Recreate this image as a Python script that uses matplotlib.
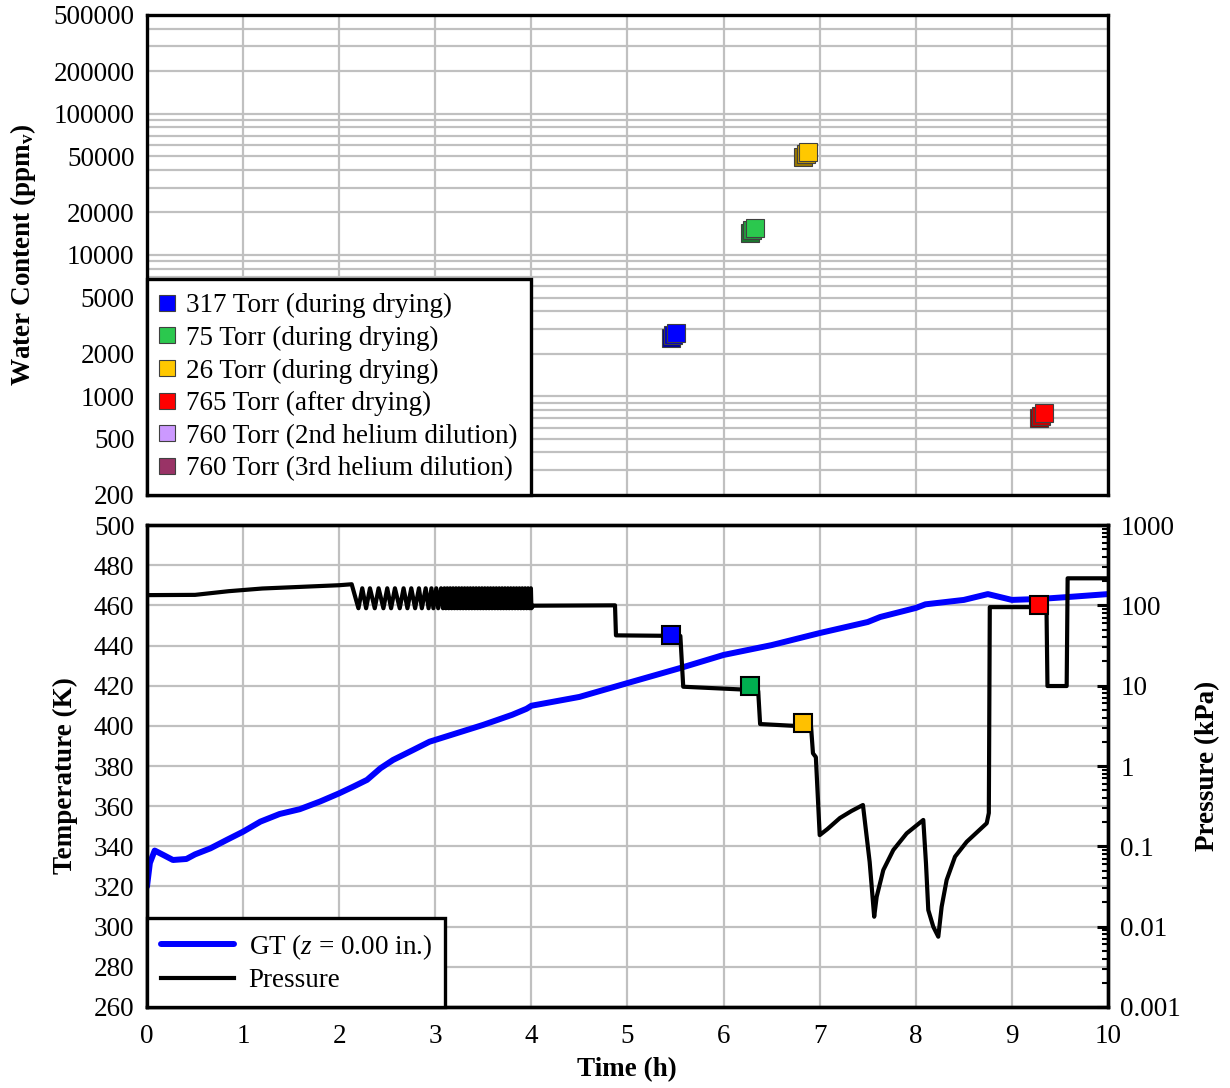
import matplotlib.pyplot as plt
import matplotlib.transforms as mtransforms
from matplotlib.colors import to_rgb
from matplotlib.lines import Line2D
from matplotlib.ticker import FixedLocator, LogLocator, NullFormatter, NullLocator
import numpy as np

plt.rcParams['font.family'] = ['Liberation Serif', 'DejaVu Serif']
plt.rcParams['mathtext.fontset'] = 'custom'
plt.rcParams['mathtext.rm'] = 'Liberation Serif'
plt.rcParams['mathtext.it'] = 'Liberation Serif:italic'
plt.rcParams['mathtext.bf'] = 'Liberation Serif:bold'

FS = 19.5
GRID = '#c0c0c0'

# water samples (time of sample, moisture in ppmv, chamber pressure in Torr)
sample_labels = ['317 Torr (during drying)', '75 Torr (during drying)',
                 '26 Torr (during drying)', '765 Torr (after drying)',
                 '760 Torr (2nd helium dilution)', '760 Torr (3rd helium dilution)']
sample_colors = ['#0000ff', '#2bc84e', '#ffc800', '#ff0000', '#cc99ff', '#993366']
sample_time = [5.45, 6.27, 6.83, 9.28]
sample_ppmv = [2600, 14400, 49700, 700]
sample_torr = [317, 75, 26, 765]
marker_colors_low = ['#0000ff', '#00b050', '#ffc000', '#ff0000']

# gas temperature at z = 0.00 in.
temp_t = [0.0, 0.03, 0.08, 0.17, 0.27, 0.41, 0.5, 0.66, 0.83, 1.0, 1.18, 1.38,
          1.59, 1.8, 2.0, 2.15, 2.29, 2.43, 2.56, 2.77, 2.94, 3.2, 3.5, 3.8,
          3.95, 4.0, 4.5, 5.0, 5.55, 6.0, 6.5, 7.0, 7.5, 7.63, 8.0, 8.1, 8.5,
          8.75, 9.0, 9.3, 9.6, 10.0]
temp_k = [320, 331.7, 337.9, 335.7, 333.2, 333.7, 336, 339, 343.2, 347.3, 352.3,
          356.1, 358.5, 362.3, 366.4, 369.8, 373.1, 378.9, 383, 388, 392.1, 396,
          400.5, 405.5, 408.5, 410, 414.4, 421.3, 428.8, 435.3, 440.2, 446.2,
          451.7, 454.2, 458.7, 460.5, 462.7, 465.6, 462.7, 463.2, 464.2, 465.6]

# pressure (kPa): fill, cycling, pump-down, backfill
pre_t = [0.0, 0.5, 0.85, 1.2, 2.0, 2.13]
pre_p = [134, 135, 150, 162, 178, 183]

cyc_low_t = [2.20, 2.28, 2.37, 2.46, 2.54, 2.63, 2.71, 2.79, 2.86, 2.93, 2.98,
             3.03, 3.08, 3.11, 3.14, 3.17, 3.20, 3.23, 3.26, 3.29, 3.32, 3.35,
             3.38, 3.41, 3.44, 3.47, 3.50, 3.53, 3.56, 3.59, 3.62, 3.65, 3.68,
             3.71, 3.74, 3.77, 3.80, 3.83, 3.86, 3.89, 3.92, 3.95, 3.98]
cyc_high_t = [2.24, 2.32, 2.41, 2.50, 2.58, 2.67, 2.75, 2.83, 2.90, 2.96, 3.01,
              3.06, 3.095, 3.125, 3.155, 3.185, 3.215, 3.245, 3.275, 3.305,
              3.335, 3.365, 3.395, 3.425, 3.455, 3.485, 3.515, 3.545, 3.575,
              3.605, 3.635, 3.665, 3.695, 3.725, 3.755, 3.785, 3.815, 3.845,
              3.875, 3.905, 3.935, 3.965, 3.995]
cyc_low_p = 92
cyc_high_p = 163

post_t = [4.00, 4.02, 4.87, 4.88, 5.55, 5.58, 6.17, 6.33, 6.36, 6.38, 6.91, 6.93,
          6.96, 7.00, 7.08, 7.21, 7.33, 7.45, 7.52, 7.567, 7.593, 7.662, 7.766,
          7.905, 8.078, 8.106, 8.13, 8.182, 8.234, 8.269, 8.321, 8.408, 8.53,
          8.738, 8.76, 8.77, 9.19, 9.36, 9.37, 9.57, 9.58, 10.0]
post_p = [92, 99, 100, 42.3, 41.6, 9.7, 9.0, 8.8, 8.6, 3.33, 3.08, 1.44,
          1.29, 0.138, 0.164, 0.225, 0.275, 0.327, 0.0638, 0.0133, 0.0236, 0.0507,
          0.090, 0.145, 0.213, 0.0615, 0.0161, 0.00998, 0.0075, 0.0177, 0.0381,
          0.0743, 0.114, 0.194, 0.26, 95, 95, 94, 9.9, 9.9, 217, 217]

# stitch the cycling section between the two flat parts
cyc_t = []
cyc_p = []
for lo, hi in zip(cyc_low_t, cyc_high_t):
    cyc_t += [lo, hi]
    cyc_p += [cyc_low_p, cyc_high_p]
press_t = pre_t + cyc_t + post_t
press_p = pre_p + cyc_p + post_p

fig = plt.figure(figsize=(12.3, 10.88), dpi=100)

# ---------- water content ----------
ax1 = fig.add_axes([0.11951, 0.54504, 0.78130, 0.44118])
ax1.set_xlim(0, 10)
ax1.set_yscale('log')
ax1.set_ylim(200, 500000)
ax1.xaxis.set_major_locator(FixedLocator(range(0, 11)))
ax1.xaxis.set_minor_locator(NullLocator())
ax1.set_xticklabels([])
yt = [200, 500, 1000, 2000, 5000, 10000, 20000, 50000, 100000, 200000, 500000]
ax1.yaxis.set_major_locator(FixedLocator(yt))
ax1.set_yticklabels([str(v) for v in yt])
ax1.yaxis.set_minor_locator(LogLocator(base=10, subs=range(2, 10)))
ax1.yaxis.set_minor_formatter(NullFormatter())
ax1.tick_params(which='both', length=0, labelsize=FS, pad=9)
ax1.grid(True, which='both', color=GRID, lw=1.6)
ax1.set_axisbelow(True)
for s in ax1.spines.values():
    s.set_linewidth(2.4)

# stacked squares, back ones a shade darker
for t, w, c in zip(sample_time, sample_ppmv, sample_colors):
    rgb = np.array(to_rgb(c))
    for k, (d, f) in enumerate([(0, 0.6), (2.5, 0.78), (5, 1.0)]):
        tr = mtransforms.offset_copy(ax1.transData, fig=fig, x=d, y=d, units='dots')
        ax1.plot([t], [w], 's', ms=13, mfc=rgb * f, mec='#404040', mew=0.8,
                 transform=tr, zorder=3 + k)

handles = [Line2D([], [], ls='none', marker='s', ms=11.5, mfc=c, mec='#404040',
                  mew=0.8) for c in sample_colors]
leg1 = ax1.legend(handles, sample_labels, loc='lower left', bbox_to_anchor=(0, 0),
                  borderaxespad=0, fontsize=FS, frameon=True, fancybox=False,
                  borderpad=0.5, handlelength=0.5, handletextpad=0.45,
                  labelspacing=0.28)
leg1.get_frame().set_edgecolor('black')
leg1.get_frame().set_linewidth(2.4)
leg1.get_frame().set_alpha(1)

ax1.set_ylabel(r'Water Content (ppm$_\mathbf{v}$)', fontsize=FS, fontweight='bold')
ax1.yaxis.set_label_coords(-0.113, 0.5)

# ---------- temperature / pressure ----------
ax2 = fig.add_axes([0.11951, 0.07445, 0.78130, 0.44301])
ax2.set_xlim(0, 10)
ax2.set_ylim(260, 500)
ax2.set_xticks(range(0, 11))
ax2.set_yticks(range(260, 501, 20))
ax2.tick_params(length=0, labelsize=FS, pad=9)
ax2.tick_params(axis='x', pad=12)
ax2.grid(True, color=GRID, lw=1.6)
ax2.set_axisbelow(True)
ln_t, = ax2.plot(temp_t, temp_k, color='#0000ff', lw=4.3, solid_capstyle='round',
                 solid_joinstyle='round', label=r'GT ($z$ = 0.00 in.)')

ax3 = ax2.twinx()
ax3.set_yscale('log')
ax3.set_ylim(0.001, 1000)
ax3.yaxis.set_major_locator(FixedLocator([0.001, 0.01, 0.1, 1, 10, 100, 1000]))
ax3.set_yticklabels(['0.001', '0.01', '0.1', '1', '10', '100', '1000'])
ax3.yaxis.set_minor_locator(LogLocator(base=10, subs=range(2, 10)))
ax3.yaxis.set_minor_formatter(NullFormatter())
ax3.tick_params(axis='y', which='major', direction='in', length=8, width=2.2,
                labelsize=FS, pad=9)
ax3.tick_params(axis='y', which='minor', direction='in', length=4.5, width=1.5)
ln_p, = ax3.plot(press_t, press_p, color='black', lw=3.0,
                 solid_joinstyle='round', label='Pressure')
for t, p, c in zip(sample_time, sample_torr, marker_colors_low):
    ax3.plot([t], [p * 0.133322], 's', ms=13.5, mfc=c, mec='black', mew=1.5, zorder=5)

for ax in (ax2, ax3):
    for s in ax.spines.values():
        s.set_linewidth(2.4)

leg2 = ax3.legend([ln_t, ln_p], [ln_t.get_label(), ln_p.get_label()],
                  loc='lower left', bbox_to_anchor=(0, 0), borderaxespad=0,
                  fontsize=FS, frameon=True, fancybox=False, borderpad=0.5,
                  handlelength=2.7, handletextpad=0.55, labelspacing=0.25)
leg2.get_frame().set_edgecolor('black')
leg2.get_frame().set_linewidth(2.4)
leg2.get_frame().set_alpha(1)

ax2.set_xlabel('Time (h)', fontsize=FS, fontweight='bold')
ax2.xaxis.set_label_coords(0.4995, -0.103)
ax2.set_ylabel('Temperature (K)', fontsize=FS, fontweight='bold')
ax2.yaxis.set_label_coords(-0.0715, 0.48)
ax3.set_ylabel('Pressure (kPa)', fontsize=FS, fontweight='bold', rotation=90)
ax3.yaxis.set_label_coords(1.0905, 0.5)

fig.savefig('out.png', dpi=100)
